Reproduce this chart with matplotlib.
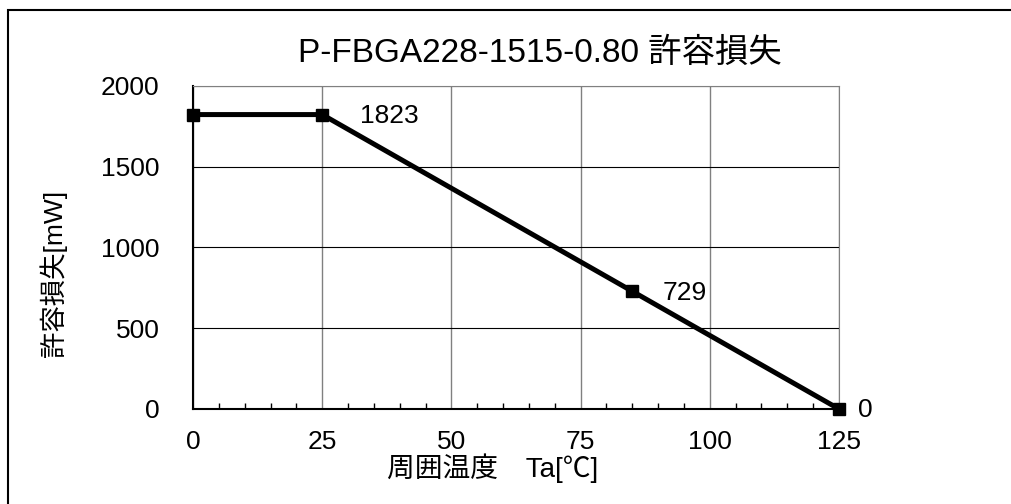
import matplotlib
matplotlib.use('Agg')
import matplotlib.pyplot as plt
from matplotlib.patches import Rectangle
from matplotlib.ticker import MultipleLocator

plt.rcParams['font.family'] = ['Liberation Sans', 'Noto Sans CJK JP', 'DejaVu Sans']

temps = [0, 25, 85, 125]
power = [1823, 1823, 729, 0]
labels = ['', '1823', '729', '0']
title = 'P-FBGA228-1515-0.80 許容損失'
xlabel = '周囲温度　Ta[℃]'
ylabel = '許容損失[mW]'

# label offsets in points (layout only)
label_dx = [0, 27, 22, 14]

fig = plt.figure(figsize=(10.12, 5.04), dpi=100)
ax = fig.add_axes([0.1907, 0.1885, 0.6383, 0.6409])

ax.plot(temps, power, color='black', linewidth=3.6, marker='s',
        markersize=9, clip_on=False, zorder=5)

for x, y, t, dx in zip(temps, power, labels, label_dx):
    if t:
        ax.annotate(t, (x, y), xytext=(dx, -1), textcoords='offset points',
                    fontsize=19, va='center', ha='left')

ax.set_xlim(0, 125)
ax.set_ylim(0, 2000)
ax.xaxis.set_major_locator(MultipleLocator(25))
ax.xaxis.set_minor_locator(MultipleLocator(5))
ax.yaxis.set_major_locator(MultipleLocator(500))
ax.tick_params(axis='x', which='minor', direction='in', length=4, width=1,
               top=False)
ax.tick_params(axis='x', which='major', direction='in', length=0, labelsize=19, pad=15)
ax.tick_params(axis='y', which='major', length=0, labelsize=19, pad=24)

ax.grid(axis='x', color='#808080', linewidth=1)
ax.grid(axis='y', color='black', linewidth=0.8)
ax.set_axisbelow(True)

ax.spines['left'].set_linewidth(1.5)
ax.spines['bottom'].set_linewidth(1.5)
ax.spines['top'].set_color('#808080')
ax.spines['right'].set_color('#808080')

fig.text(540 / 1012, (504 - 62) / 504, title, fontsize=24,
         ha='center', va='baseline')
fig.text(493 / 1012, (504 - 468) / 504, xlabel, fontsize=20,
         ha='center', va='center')
fig.text(53 / 1012, (504 - 273) / 504, ylabel, fontsize=19,
         ha='center', va='center', rotation=90)

fig.patches.append(Rectangle((8 / 1012, -0.1), 1.2, (504 - 10) / 504 + 0.1,
                             transform=fig.transFigure, fill=False,
                             edgecolor='black', linewidth=1.5))

plt.savefig('out.png', dpi=100)
